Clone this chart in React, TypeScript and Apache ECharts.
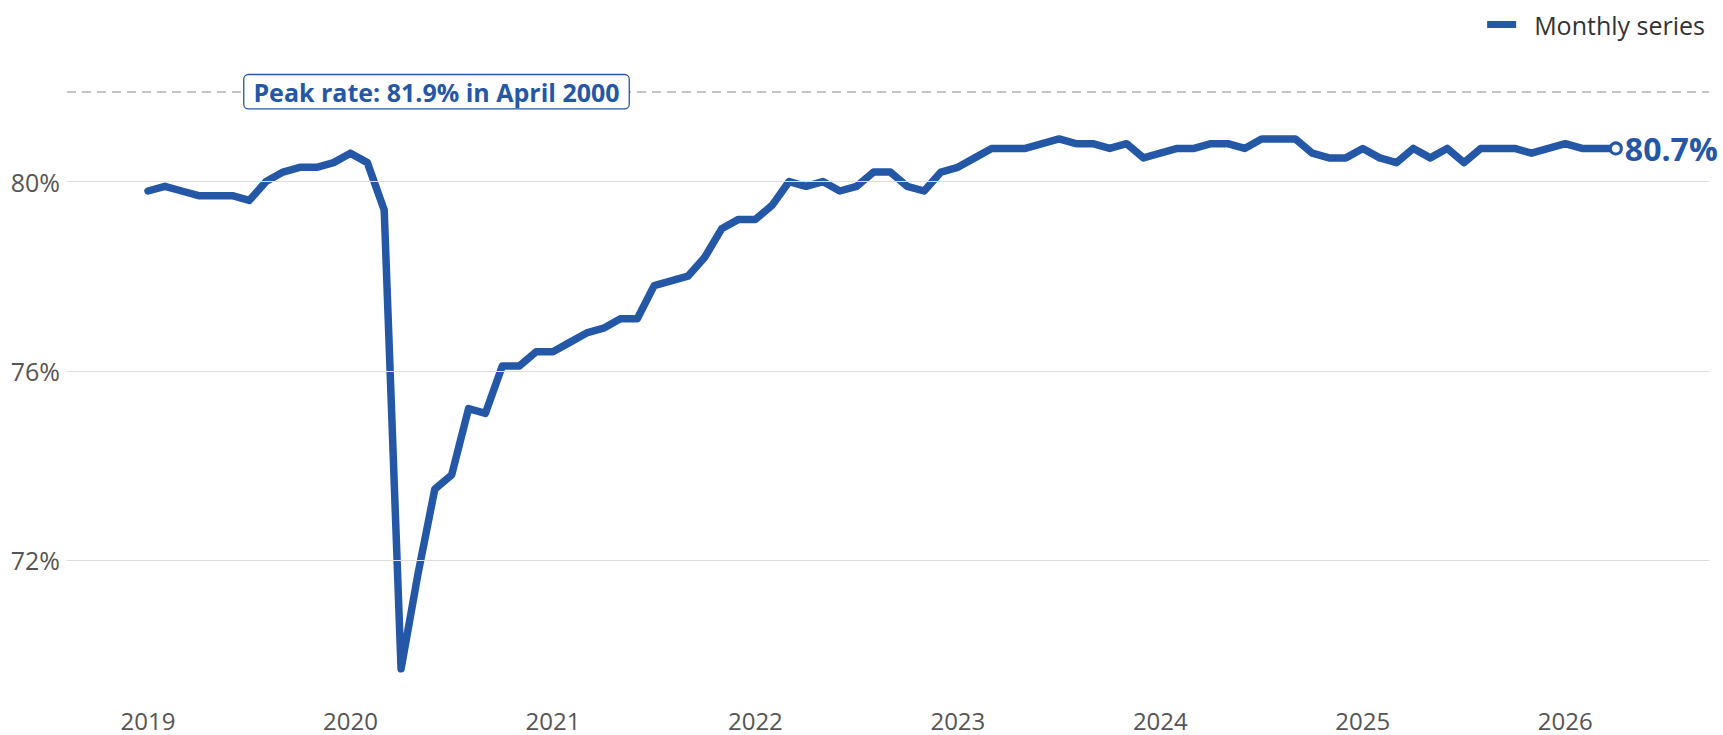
import React, { useEffect, useRef } from "react";
import * as echarts from "echarts";

const seriesName = "Monthly series";
const startYear = 2019;
const rate2019 = [79.8, 79.9, 79.8, 79.7, 79.7, 79.7, 79.6, 80.0, 80.2, 80.3, 80.3, 80.4];
const rate2020 = [80.6, 80.4, 79.4, 69.7, 71.7, 73.5, 73.8, 75.2, 75.1, 76.1, 76.1, 76.4];
const rate2021 = [76.4, 76.6, 76.8, 76.9, 77.1, 77.1, 77.8, 77.9, 78.0, 78.4, 79.0, 79.2];
const rate2022 = [79.2, 79.5, 80.0, 79.9, 80.0, 79.8, 79.9, 80.2, 80.2, 79.9, 79.8, 80.2];
const rate2023 = [80.3, 80.5, 80.7, 80.7, 80.7, 80.8, 80.9, 80.8, 80.8, 80.7, 80.8, 80.5];
const rate2024 = [80.6, 80.7, 80.7, 80.8, 80.8, 80.7, 80.9, 80.9, 80.9, 80.6, 80.5, 80.5];
const rate2025 = [80.7, 80.5, 80.4, 80.7, 80.5, 80.7, 80.4, 80.7, 80.7, 80.7, 80.6, 80.7];
const rate2026 = [80.8, 80.7, 80.7, 80.7];

const yearTicks = [2019, 2020, 2021, 2022, 2023, 2024, 2025, 2026];
const yTicks = [72, 76, 80];
const peakRate = 81.9;
const peakLabel = "Peak rate: 81.9% in April 2000";
const peakLabelYear = 2020.425;

const BLUE = "#2457A6";
const FONT = "'Open Sans', 'Noto Sans', sans-serif";

export default function App() {
  const ref = useRef<HTMLDivElement>(null);
  useEffect(() => {
    if (!ref.current) return;
    const chart = echarts.init(ref.current, null, { renderer: "svg" });
    const allRates = [
      ...rate2019, ...rate2020, ...rate2021, ...rate2022,
      ...rate2023, ...rate2024, ...rate2025, ...rate2026,
    ];
    const data = allRates.map((v, i) => [startYear + i / 12, v]);
    const last = data[data.length - 1];

    chart.setOption({
      animation: false,
      textStyle: { fontFamily: FONT },
      legend: {
        data: [seriesName],
        right: 13,
        top: 7,
        icon: "rect",
        itemWidth: 29,
        itemHeight: 7,
        textStyle: { fontSize: 25, color: "#333", fontFamily: FONT, padding: [0, 0, 0, 13] },
      },
      grid: { left: 67, right: 14, top: 68, bottom: 52 },
      xAxis: {
        type: "value",
        min: 2018.6,
        max: 2026.71,
        axisLine: { show: false },
        axisTick: { show: false },
        splitLine: { show: false },
        axisLabel: {
          customValues: yearTicks,
          formatter: (v: number) => String(Math.round(v)),
          fontSize: 24,
          lineHeight: 22,
          color: "#555",
          fontFamily: FONT,
          margin: 26,
        },
      },
      yAxis: {
        type: "value",
        min: 69.4,
        max: 82.4,
        axisLine: { show: false },
        axisTick: { show: false },
        splitLine: { show: false },
        axisLabel: {
          customValues: yTicks,
          formatter: (v: number) => `${v}%`,
          fontSize: 25,
          color: "#555",
          fontFamily: FONT,
          margin: 7,
        },
      },
      series: [
        {
          name: "gridlines",
          type: "line",
          data: [],
          silent: true,
          z: 1,
          markLine: {
            silent: true,
            symbol: "none",
            label: { show: false },
            lineStyle: { color: "#dddddd", width: 1, type: "solid" },
            data: yTicks.map((v) => ({ yAxis: v })),
          },
        },
        {
          name: "peak",
          type: "line",
          data: [],
          silent: true,
          z: 2,
          markLine: {
            silent: true,
            symbol: "none",
            label: { show: false },
            lineStyle: { color: "#c4c4c4", width: 2, type: [9, 6] },
            data: [{ yAxis: peakRate }],
          },
        },
        {
          name: seriesName,
          type: "line",
          data,
          showSymbol: false,
          z: 3,
          lineStyle: { color: BLUE, width: 7.5, cap: "round", join: "round" },
          itemStyle: { color: BLUE },
          endLabel: {
            show: true,
            formatter: (p: any) => `${p.value[1]}%`,
            color: BLUE,
            fontSize: 32,
            fontWeight: "bold",
            fontFamily: FONT,
            distance: 9,
          },
        },
        {
          name: "last",
          type: "scatter",
          data: [last],
          symbol: "circle",
          symbolSize: 11,
          z: 4,
          silent: true,
          itemStyle: { color: "#ffffff", borderColor: BLUE, borderWidth: 3, opacity: 1 },
        },
        {
          name: "annotation",
          type: "line",
          data: [],
          silent: true,
          z: 5,
          markPoint: {
            silent: true,
            symbol: "rect",
            symbolSize: 1,
            itemStyle: { color: "rgba(0,0,0,0)" },
            label: {
              show: true,
              position: "inside",
              formatter: peakLabel,
              color: BLUE,
              fontSize: 25,
              lineHeight: 26,
              fontWeight: "bold",
              fontFamily: FONT,
              backgroundColor: "#ffffff",
              borderColor: BLUE,
              borderWidth: 1.3,
              borderRadius: 4,
              padding: [4, 9, 3, 9],
            },
            data: [{ coord: [peakLabelYear, peakRate] }],
          },
        },
      ],
    });
    return () => chart.dispose();
  }, []);
  return (
    <div
      ref={ref}
      style={{ position: "absolute", left: 0, top: 0, width: 1723, height: 735 }}
    />
  );
}
